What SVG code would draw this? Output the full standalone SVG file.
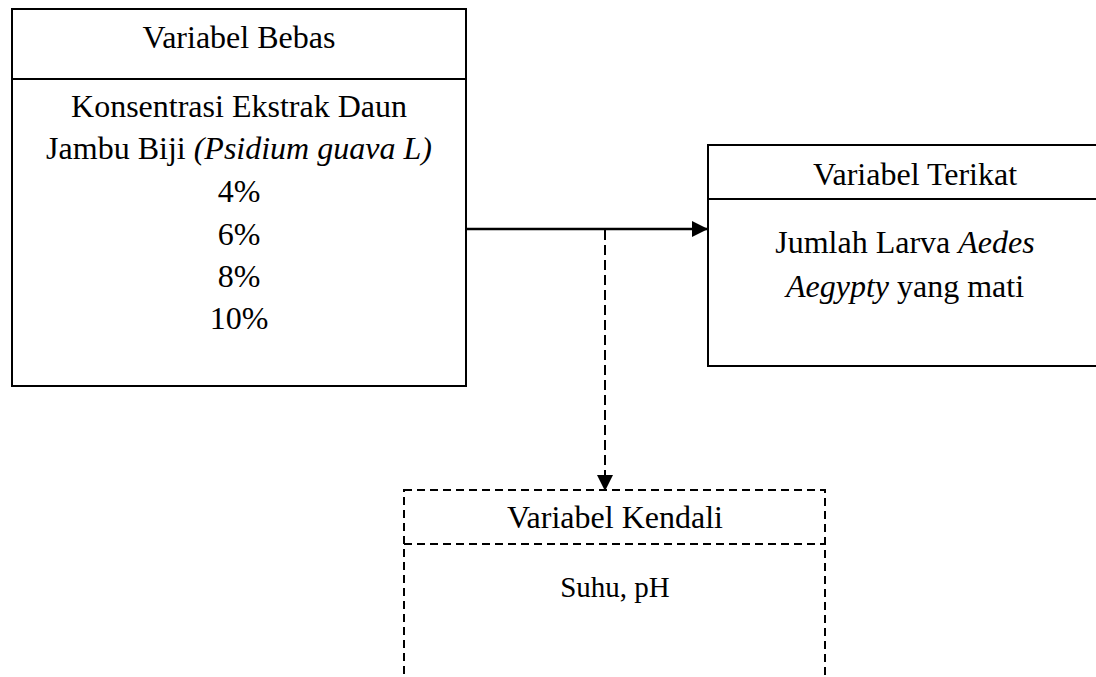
<svg xmlns="http://www.w3.org/2000/svg" width="1096" height="677" viewBox="0 0 1096 677">
<style>
.box{fill:#fff;stroke:#000;stroke-width:2}
.dbox{fill:#fff;stroke:#000;stroke-width:2;stroke-dasharray:8 5}
.t{font-family:"Liberation Serif","Times New Roman",serif;font-size:32px;fill:#000;text-anchor:middle}
.it{font-style:italic}
.conn{stroke:#000;stroke-width:2.5;fill:none}
.dash{stroke:#000;stroke-width:2;fill:none;stroke-dasharray:10 5}
</style>
<defs>
<marker id="ah" markerWidth="16" markerHeight="16" refX="16" refY="8" orient="auto" markerUnits="userSpaceOnUse">
<path d="M0,0 L16,8 L0,16 Z" fill="#000"/>
</marker>
</defs>
<rect width="1096" height="677" fill="#fff"/>
<g id="bebas">
<rect class="box" x="12" y="9" width="454" height="377"/>
<line class="box" x1="12" y1="79" x2="466" y2="79"/>
<text class="t" x="239" y="48">Variabel Bebas</text>
<text class="t" x="239" y="117">Konsentrasi Ekstrak Daun</text>
<text class="t" x="239" y="159">Jambu Biji <tspan class="it">(Psidium guava L)</tspan></text>
<text class="t" x="239" y="202">4%</text>
<text class="t" x="239" y="245">6%</text>
<text class="t" x="239" y="287">8%</text>
<text class="t" x="239" y="329">10%</text>
</g>
<g id="terikat">
<rect class="box" x="708" y="145" width="414" height="221"/>
<line class="box" x1="708" y1="199" x2="1122" y2="199"/>
<text class="t" x="915" y="185">Variabel Terikat</text>
<text class="t" x="905" y="253">Jumlah Larva <tspan class="it">Aedes</tspan></text>
<text class="t" x="905" y="297"><tspan class="it">Aegypty</tspan> yang mati</text>
</g>
<g id="kendali">
<rect class="dbox" x="404" y="490" width="421" height="230"/>
<line class="dbox" x1="404" y1="544" x2="825" y2="544"/>
<text class="t" x="615" y="528">Variabel Kendali</text>
<text class="t" x="615" y="597" style="font-size:29px">Suhu, pH</text>
</g>
<g id="connectors">
<line class="conn" x1="466" y1="229" x2="708" y2="229" marker-end="url(#ah)"/>
<line class="dash" x1="605" y1="230" x2="605" y2="491" marker-end="url(#ah)"/>
</g>
</svg>
